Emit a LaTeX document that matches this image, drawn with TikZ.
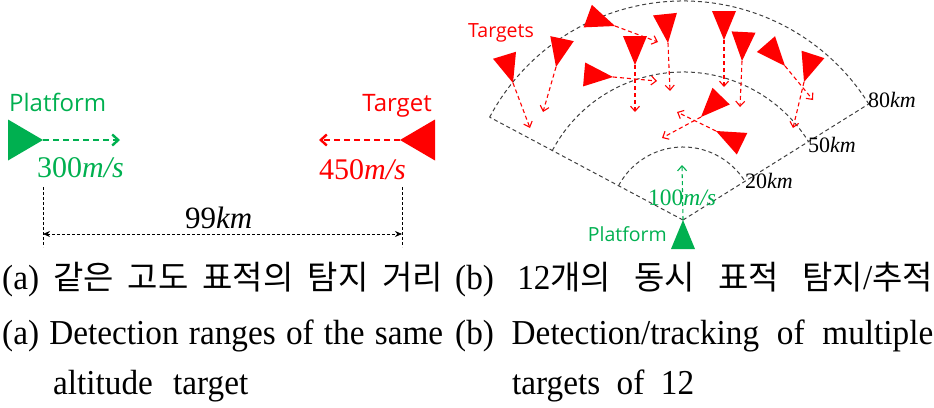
\documentclass[tikz,border=0pt]{standalone}
\usepackage{fontspec}
\setmainfont{Liberation Serif}
\newfontfamily\capfont[FakeStretch=0.95]{Liberation Serif}
\newfontfamily\kofont{Noto Sans CJK KR}
\newfontfamily\labfont{Open Sans}
\usetikzlibrary{shapes.geometric, arrows.meta, positioning}
\definecolor{pgreen}{RGB}{0,176,80}
\definecolor{tred}{RGB}{255,0,0}
\definecolor{fangray}{RGB}{64,64,64}
\newcommand{\kor}[1]{{\kofont\fontsize{33}{36}\selectfont #1}}

\begin{document}
\begin{tikzpicture}[x=1pt, y=-1pt,
    tri/.style={isosceles triangle, isosceles triangle stretches, draw=none,
                inner sep=0pt, outer sep=0pt, anchor=apex,
                minimum width=24pt, minimum height=29pt},
    bigtri/.style={tri, minimum width=41pt, minimum height=35pt},
    lab/.style={font=\labfont\fontsize{24}{26}\selectfont, inner sep=0pt},
    slab/.style={font=\labfont\fontsize{19.5}{22}\selectfont, inner sep=0pt},
    spd/.style={font=\fontsize{30}{32}\selectfont, inner sep=0pt, anchor=base west},
    rng/.style={font=\fontsize{22}{24}\selectfont, inner sep=0pt, anchor=base west},
    fanline/.style={draw=fangray, line width=1pt, dash pattern=on 4pt off 3pt},
    parrow/.style={-{Straight Barb[length=6pt, width=11pt]}, pgreen,
                   line width=2.4pt, dash pattern=on 6pt off 4pt},
    tarrow/.style={-{Straight Barb[length=5pt, width=9pt]}, tred,
                   line width=1.1pt, dash pattern=on 4pt off 3pt},
    dimline/.style={black, line width=0.8pt, dash pattern=on 3pt off 2pt},
    dimarrow/.style={dimline, {Stealth[length=7pt, width=6pt]}-{Stealth[length=7pt, width=6pt]}},
    captxt/.style={font=\capfont\fontsize{35}{40}\selectfont, inner sep=0pt, anchor=base west},
]
\useasboundingbox (0,0) rectangle (934,407);

% ---------- (a): platform vs. target, same altitude ----------
\node[bigtri, fill=pgreen]             (plat) at (43,140) {};
\node[bigtri, fill=tred, rotate=180]   (tgt)  at (400,140) {};
\node[lab, text=pgreen, anchor=base west] (platlab) at (9,111)  {Platform};
\node[lab, text=tred,   anchor=base east] (tgtlab)  at (432,111) {Target};
\node[spd, text=pgreen] (platspd) at (37,177)  {300\textit{m/s}};
\node[spd, text=tred]   (tgtspd)  at (319,179) {450\textit{m/s}};
\node[spd, font=\fontsize{31}{33}\selectfont] (dist) at (185,228) {99\textit{km}};

\coordinate (platend) at (120,140);
\coordinate (tgtend)  at (319,140);
\coordinate (d1t) at (43,187);  \coordinate (d1b) at (43,247);
\coordinate (d2t) at (402,187); \coordinate (d2b) at (402,247);
\coordinate (d1m) at (43,234);  \coordinate (d2m) at (402,234);

\draw[parrow]       (plat.apex) -- (platend);
\draw[parrow, tred] (tgt.apex)  -- (tgtend);
\draw[dimline]  (d1t) -- (d1b);
\draw[dimline]  (d2t) -- (d2b);
\draw[dimarrow] (d1m) -- (d2m);

% ---------- (b): range fan ----------
\coordinate (apex) at (683,220);
\draw[fanline] (apex) ++(-152:219) arc[start angle=-152, end angle=-32, radius=219];
\draw[fanline] (apex) ++(-152:148) arc[start angle=-152, end angle=-32, radius=148];
\draw[fanline] (apex) ++(-152:73)  arc[start angle=-152, end angle=-32, radius=73];
\draw[fanline] (apex) -- ++(-152:219);
\draw[fanline] (apex) -- ++(-32:219);
\node[rng] (r80) at (868,107) {80\textit{km}};
\node[rng] (r50) at (808,152) {50\textit{km}};
\node[rng] (r20) at (745,188) {20\textit{km}};

% ---------- (b): platform ----------
\node[tri, fill=pgreen, rotate=90] (pf) at (683,220) {};
\coordinate (pfend) at (682,165);
\draw[tarrow, pgreen] (pf.apex) -- (pfend);
\node[spd, text=pgreen, font=\fontsize{23.5}{25}\selectfont] (pfspd) at (648,205) {100\textit{m/s}};
\node[slab, text=pgreen, anchor=base east] (pflab) at (667,241) {Platform};

% ---------- (b): 12 targets ----------
\node[slab, text=tred, anchor=base west] (tgtslab) at (468,37) {Targets};
\node[tri, fill=tred, rotate=-73]   (t1)  at (513,83)  {};
\node[tri, fill=tred, rotate=-102]  (t2)  at (556,67)  {};
\node[tri, fill=tred, rotate=-20]   (t3)  at (615,26)  {};
\node[tri, fill=tred, rotate=-90]   (t4)  at (635,65)  {};
\node[tri, fill=tred, rotate=-5]    (t5)  at (613,77)  {};
\node[tri, fill=tred, rotate=-84]   (t6)  at (668,43)  {};
\node[tri, fill=tred, rotate=-90]   (t7)  at (724,40)  {};
\node[tri, fill=tred, rotate=-93]   (t8)  at (742,61)  {};
\node[tri, fill=tred, rotate=-49]   (t9)  at (785,66)  {};
\node[tri, fill=tred, rotate=-108]  (t10) at (804,82)  {};
\node[tri, fill=tred, rotate=-134]  (t11) at (701,117) {};
\node[tri, fill=tred, rotate=154]   (t12) at (716,131) {};

\coordinate (e1)  at (530,128);
\coordinate (e2)  at (543,112);
\coordinate (e3)  at (658,42);
\coordinate (e4)  at (635,112);
\coordinate (e5)  at (657,81);
\coordinate (e6)  at (670,91);
\coordinate (e7)  at (724,87);
\coordinate (e8)  at (740,107);
\coordinate (e9)  at (813,100);
\coordinate (e10) at (793,128);
\coordinate (e11) at (662,138);
\coordinate (e12) at (677,112);

\draw[tarrow] (t1.apex)  -- (e1);
\draw[tarrow] (t2.apex)  -- (e2);
\draw[tarrow] (t3.apex)  -- (e3);
\draw[tarrow] (t4.apex)  -- (e4);
\draw[tarrow] (t5.apex)  -- (e5);
\draw[tarrow] (t6.apex)  -- (e6);
\draw[tarrow] (t7.apex)  -- (e7);
\draw[tarrow] (t8.apex)  -- (e8);
\draw[tarrow] (t9.apex)  -- (e9);
\draw[tarrow] (t10.apex) -- (e10);
\draw[tarrow] (t11.apex) -- (e11);
\draw[tarrow] (t12.apex) -- (e12);

% ---------- captions ----------
\node[captxt] (capa1) at (2,289)
  {\makebox[441pt][s]{(a) \kor{같은} \kor{고도} \kor{표적의} \kor{탐지} \kor{거리}}};
\node[captxt] (capb1) at (455,289)
  {\makebox[478pt][s]{(b) 12\kor{개의} \kor{동시} \kor{표적} \kor{탐지}/\kor{추적}}};
\node[captxt] (capa2) at (2,344)   {\makebox[441pt][s]{(a) Detection ranges of the same}};
\node[captxt] (capb2) at (455,344) {\makebox[478pt][s]{(b) Detection/tracking of multiple}};
\node[captxt] (capa3) at (53,394)  {\makebox[195pt][s]{altitude target}};
\node[captxt] (capb3) at (512,394) {\makebox[182pt][s]{targets of 12}};

\end{tikzpicture}
\end{document}
